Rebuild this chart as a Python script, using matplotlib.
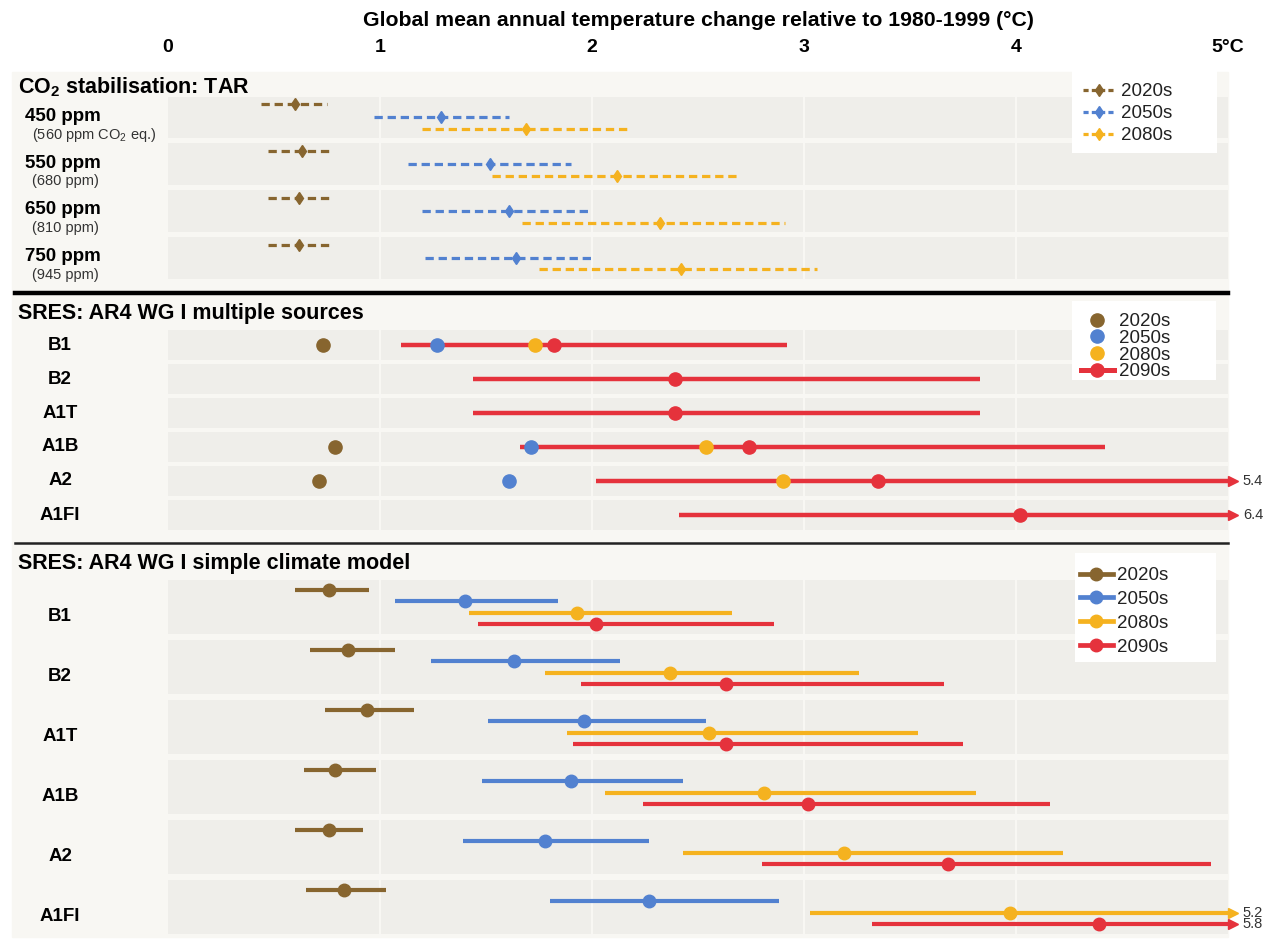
import numpy as np
import matplotlib
matplotlib.use('Agg')
import matplotlib.pyplot as plt
from matplotlib.lines import Line2D
from matplotlib.patches import Rectangle
from matplotlib.transforms import blended_transform_factory

plt.rcParams['font.family'] = ['Liberation Sans', 'DejaVu Sans']
plt.rcParams['mathtext.fontset'] = 'custom'
plt.rcParams['mathtext.rm'] = 'Liberation Sans'
plt.rcParams['mathtext.bf'] = 'Liberation Sans:bold'

# ---- data (deg C relative to 1980-1999) ----
periods = ['2020s', '2050s', '2080s', '2090s']

# CO2 stabilisation: TAR  -> (low, mid, high) per level
tar_levels = ['450 ppm', '550 ppm', '650 ppm', '750 ppm']
tar_sub = ['(560 ppm CO$_\\mathrm{2}$ eq.)', '(680 ppm)', '(810 ppm)', '(945 ppm)']
tar_2020 = [[0.44, 0.60, 0.75], [0.47, 0.63, 0.78], [0.47, 0.62, 0.78], [0.47, 0.62, 0.78]]
tar_2050 = [[0.97, 1.29, 1.61], [1.13, 1.52, 1.90], [1.20, 1.61, 1.98], [1.21, 1.64, 2.01]]
tar_2080 = [[1.20, 1.69, 2.18], [1.53, 2.12, 2.70], [1.67, 2.32, 2.91], [1.75, 2.42, 3.06]]

# SRES: AR4 WG I multiple sources
scenarios = ['B1', 'B2', 'A1T', 'A1B', 'A2', 'A1FI']
ms_2020 = [0.73, np.nan, np.nan, 0.79, 0.71, np.nan]
ms_2050 = [1.27, np.nan, np.nan, 1.71, 1.61, np.nan]
ms_2080 = [1.73, np.nan, np.nan, 2.54, 2.90, np.nan]
ms_2090 = [1.82, 2.39, 2.39, 2.74, 3.35, 4.02]
ms_2090_low = [1.10, 1.44, 1.44, 1.66, 2.02, 2.41]
ms_2090_high = [2.92, 3.83, 3.83, 4.42, 5.4, 6.4]

# SRES: AR4 WG I simple climate model -> (low, mid, high) per scenario
scm_2020 = [[0.60, 0.76, 0.95], [0.67, 0.85, 1.07], [0.74, 0.94, 1.16],
            [0.64, 0.79, 0.98], [0.60, 0.76, 0.92], [0.65, 0.83, 1.03]]
scm_2050 = [[1.07, 1.40, 1.84], [1.24, 1.63, 2.13], [1.51, 1.96, 2.54],
            [1.48, 1.90, 2.43], [1.39, 1.78, 2.27], [1.80, 2.27, 2.88]]
scm_2080 = [[1.42, 1.93, 2.66], [1.78, 2.37, 3.26], [1.88, 2.55, 3.54],
            [2.06, 2.81, 3.81], [2.43, 3.19, 4.22], [3.03, 3.97, 5.2]]
scm_2090 = [[1.46, 2.02, 2.86], [1.95, 2.63, 3.66], [1.91, 2.63, 3.75],
            [2.24, 3.02, 4.16], [2.80, 3.68, 4.92], [3.32, 4.39, 5.8]]

xticks = [0, 1, 2, 3, 4, 5]
xticklabels = ['0', '1', '2', '3', '4', '5°C']

BROWN = '#87652f'
BLUE = '#5281d0'
YELLOW = '#f5b21f'
RED = '#e5323c'
colors = [BROWN, BLUE, YELLOW, RED]
BAND = '#efeeea'
GAP = '#f8f7f3'
XMAX = 5

W, H = 1273, 939
fig = plt.figure(figsize=(W / 100, H / 100), dpi=100)


def fx(px):
    return px / W


def fy(py):
    return 1 - py / H


X0, X1 = 168, 1228

# light panel behind everything
fig.patches.append(Rectangle((fx(12), fy(937)), fx(X1) - fx(12), fy(72) - fy(937),
                             transform=fig.transFigure, color=GAP, zorder=-5))


def make_ax(top, bottom, n, gap_px):
    ax = fig.add_axes([fx(X0), fy(bottom), fx(X1) - fx(X0), fy(top) - fy(bottom)])
    ax.set_zorder(2)
    ax.set_xlim(0, XMAX)
    ax.set_ylim(n - 0.5, -0.5)
    ax.set_facecolor(GAP)
    g = gap_px / ((bottom - top) / n)
    for i in range(n):
        ax.axhspan(i - 0.5 + g, i + 0.5 - g, color=BAND, lw=0, zorder=0)
    for v in xticks[1:-1]:
        ax.axvline(v, color='#f9f8f5', lw=1.3, zorder=0.5)
    for s in ax.spines.values():
        s.set_visible(False)
    ax.set_yticks([])
    ax.set_xticks([])
    return ax


def arrow_end(ax, hi, y, col):
    # value runs past the axis: arrow at the edge and the value as text
    ax.plot(XMAX + 0.025, y, marker='>', color=col, ms=7, clip_on=False, zorder=4)
    ax.text(XMAX + 0.07, y, f'{hi:.1f}', va='center', ha='left', fontsize=10.5,
            color='#333333', clip_on=False)


def boxed_legend(ax, handles, labels, box, left, top, spacing):
    # white box (left, top, right, bottom in px) with a frameless legend inside
    l, t, r, b = box
    ax.add_patch(Rectangle((fx(l), fy(b)), fx(r) - fx(l), fy(t) - fy(b),
                           transform=fig.transFigure, facecolor='white',
                           edgecolor='none', clip_on=False, zorder=4.5))
    leg = ax.legend(handles, labels, loc='upper left', bbox_to_anchor=(fx(left), fy(top)),
                    bbox_transform=fig.transFigure, fontsize=13.5, frameon=False,
                    handlelength=1.75, handletextpad=0.25, labelspacing=spacing,
                    borderpad=0, borderaxespad=0)
    leg.set_zorder(6)
    for t_ in leg.get_texts():
        t_.set_color('#222222')
    return leg


# ---------------- section 1: CO2 stabilisation ----------------
ax1 = make_ax(94, 281, 4, 2.5)
ax1.set_xticks(xticks)
ax1.set_xticklabels(xticklabels, fontweight='bold', fontsize=14)
ax1.tick_params(axis='x', top=True, labeltop=True, bottom=False, labelbottom=False,
                length=0, pad=27)
ax1.xaxis.set_label_position('top')
ax1.set_xlabel('Global mean annual temperature change relative to 1980-1999 (°C)',
               fontweight='bold', fontsize=15.3, labelpad=10)

offs1 = [-0.28, 0.0, 0.25]
for data, col, off in zip([tar_2020, tar_2050, tar_2080], colors[:3], offs1):
    for i, (lo, mid, hi) in enumerate(data):
        ax1.plot([lo, hi], [i + off, i + off], color=col, lw=2.3, dashes=(2.6, 1.5),
                 dash_capstyle='butt', zorder=2)
        ax1.plot(mid, i + off, marker='d', color=col, ms=6, zorder=3)

tr1 = blended_transform_factory(fig.transFigure, ax1.transData)
for i, (lab, sub) in enumerate(zip(tar_levels, tar_sub)):
    ax1.text(fx(25), i - 0.02, lab, transform=tr1, fontweight='bold', fontsize=13.5,
             va='center', ha='left', clip_on=False)
    ax1.text(fx(32), i + 0.37, sub, transform=tr1, fontsize=10.5, va='center',
             ha='left', color='#333333', clip_on=False)

h1 = [Line2D([0], [0], color=c, lw=2.3, dashes=(1.6, 1.0), marker='d', ms=6)
      for c in colors[:3]]
boxed_legend(ax1, h1, periods[:3], (1072, 70, 1217, 153), 1083, 83, 0.27)

fig.text(fx(18), fy(87), 'CO$_\\mathbf{2}$ stabilisation: TAR', fontweight='bold',
         fontsize=15.5, va='center', ha='left')

# ---------------- section 2: multiple sources ----------------
ax2 = make_ax(328, 532, 6, 2)
y2 = np.arange(len(scenarios))
for i in y2:
    hi = ms_2090_high[i]
    ax2.plot([ms_2090_low[i], min(hi, XMAX)], [i, i], color=RED, lw=3.2,
             solid_capstyle='butt', zorder=2)
    if hi > XMAX:
        arrow_end(ax2, hi, i, RED)
for vals, col in zip([ms_2020, ms_2050, ms_2080, ms_2090], colors):
    ax2.plot(vals, y2, 'o', color=col, ms=9.5, zorder=3)

tr2 = blended_transform_factory(fig.transFigure, ax2.transData)
for i, lab in enumerate(scenarios):
    ax2.text(fx(60), i, lab, transform=tr2, fontweight='bold', fontsize=13.5,
             va='center', ha='center', clip_on=False)

h2 = [Line2D([0], [0], color=c, ls='none', marker='o', ms=9.5) for c in colors[:3]]
h2.append(Line2D([0], [0], color=RED, lw=3.6, marker='o', ms=9.5))
boxed_legend(ax2, h2, periods, (1072, 301, 1216, 380), 1081, 313, -0.02)

fig.text(fx(18), fy(314), 'SRES: AR4 WG I multiple sources', fontweight='bold',
         fontsize=15.5, va='center', ha='left')

# ---------------- section 3: simple climate model ----------------
ax3 = make_ax(577, 937, 6, 3)
offs3 = [-0.285, -0.095, 0.095, 0.29]
for data, col, off in zip([scm_2020, scm_2050, scm_2080, scm_2090], colors, offs3):
    for i, (lo, mid, hi) in enumerate(data):
        ax3.plot([lo, min(hi, XMAX)], [i + off, i + off], color=col, lw=3.0,
                 solid_capstyle='butt', zorder=2)
        ax3.plot(mid, i + off, 'o', color=col, ms=9, zorder=3)
        if hi > XMAX:
            arrow_end(ax3, hi, i + off, col)

tr3 = blended_transform_factory(fig.transFigure, ax3.transData)
for i, lab in enumerate(scenarios):
    ax3.text(fx(60), i + 0.16, lab, transform=tr3, fontweight='bold', fontsize=13.5,
             va='center', ha='center', clip_on=False)

h3 = [Line2D([0], [0], color=c, lw=3.4, marker='o', ms=9) for c in colors]
boxed_legend(ax3, h3, periods, (1075, 553, 1216, 662), 1080, 567, 0.36)

fig.text(fx(18), fy(563), 'SRES: AR4 WG I simple climate model', fontweight='bold',
         fontsize=15.5, va='center', ha='left')

# separator lines
fig.add_artist(Line2D([fx(15), fx(X1)], [fy(293), fy(293)], color='black', lw=3.2,
                      transform=fig.transFigure, zorder=5))
fig.add_artist(Line2D([fx(15), fx(X1)], [fy(543), fy(543)], color='#222222', lw=1.8,
                      transform=fig.transFigure, zorder=5))

fig.savefig('out.png', dpi=100, facecolor='white')
